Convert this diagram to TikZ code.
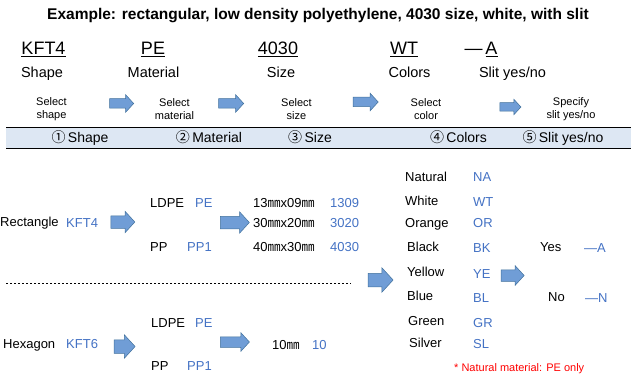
\documentclass[tikz,border=0pt]{standalone}
\usepackage{fontspec}
\setmainfont{Liberation Sans}
\newfontfamily\cjk{Noto Sans CJK JP}
\usetikzlibrary{shapes.arrows}
\definecolor{codeblue}{RGB}{68,114,196}
\definecolor{arrowfill}{RGB}{112,157,214}
\definecolor{arrowline}{RGB}{65,113,156}
\definecolor{bandfill}{RGB}{221,231,243}
\newcommand{\mmu}{{\cjk ㎜}}
\newcommand{\circnum}[1]{{\cjk #1}}
\begin{document}
\begin{tikzpicture}[x=1pt,y=-1pt,
  title/.style={font=\fontsize{15.5}{18}\selectfont\bfseries, inner sep=0pt},
  hdr/.style={font=\fontsize{18}{21}\selectfont, inner sep=0pt, text height=13pt, text depth=0pt},
  sub/.style={font=\fontsize{14.5}{17}\selectfont, inner sep=0pt, text height=10.4pt, text depth=0pt},
  sel/.style={font=\fontsize{11}{13}\selectfont, inner sep=0pt, align=center},
  bandtxt/.style={font=\fontsize{14}{16}\selectfont, inner sep=0pt, text height=10pt, text depth=0pt},
  lbl/.style={font=\fontsize{13}{15}\selectfont, inner sep=0pt, text height=9.4pt, text depth=0pt, anchor=west},
  code/.style={lbl, text=codeblue},
  note/.style={font=\fontsize{11}{13}\selectfont, inner sep=0pt, text=red, anchor=west},
  blk/.style n args={3}{shape=single arrow, draw=arrowline, fill=arrowfill, line width=0.5pt,
     inner sep=0pt, minimum height=#1, single arrow head extend=#2, single arrow tip angle=95},
  dashline/.style={draw=black, line width=0.7pt, dash pattern=on 2pt off 2pt}
]
\useasboundingbox (0,0) rectangle (636,379);

% title
\node[title] (ttl) at (318,16) {Example: rectangular, low density polyethylene, 4030 size, white, with slit};

% header codes
\node[hdr] (h1) at (43.5,48) {\underline{KFT4}};
\node[hdr] (h2) at (153,48) {\underline{PE}};
\node[hdr] (h3) at (278,48) {\underline{4030}};
\node[hdr] (h4) at (404,48) {\underline{WT}};
\node[hdr] (h5) at (481,48) {—\,\underline{A}};

\node[sub] (s1) at (42,72) {Shape};
\node[sub] (s2) at (153.5,72) {Material};
\node[sub] (s3) at (281,72) {Size};
\node[sub] (s4) at (409.5,72) {Colors};
\node[sub] (s5) at (512.5,72) {Slit yes/no};

\node[sel] (q1) at (51.5,109) {Select\\shape};
\node[sel] (q2) at (174.5,109) {Select\\material};
\node[sel] (q3) at (296.5,109) {Select\\size};
\node[sel] (q4) at (426,109) {Select\\color};
\node[sel] (q5) at (571,109) {Specify\\slit yes/no};

\node[blk={24pt}{4pt}] (t1) at (119.5,103.5) {\rule{0pt}{9pt}};
\node[blk={25pt}{4pt}] (t2) at (229,103.5) {\rule{0pt}{9pt}};
\node[blk={25pt}{4pt}] (t3) at (363.5,102) {\rule{0pt}{9pt}};
\node[blk={21pt}{3.5pt}] (t4) at (508.5,107) {\rule{0pt}{8pt}};

% band
\coordinate (b1) at (6,127);
\coordinate (b2) at (631,148);
\fill[bandfill] (b1) rectangle (b2);
\draw[line width=0.9pt] (b1) -- (b1 -| b2);
\draw[line width=0.9pt] (b1 |- b2) -- (b2);
\node[bandtxt] (p1) at (80,138) {\circnum{①}\,Shape};
\node[bandtxt] (p2) at (209,138) {\circnum{②}\,Material};
\node[bandtxt] (p3) at (310,138) {\circnum{③}\,Size};
\node[bandtxt] (p4) at (458.5,138) {\circnum{④}\,Colors};
\node[bandtxt] (p5) at (563,138) {\circnum{⑤}\,Slit yes/no};

% rectangle branch
\node[lbl] (rect) at (0,222) {Rectangle};
\node[code] (kft4) at (66,223) {KFT4};
\node[blk={24pt}{4.5pt}] (a1) at (120,222) {\rule{0pt}{12pt}};
\node[lbl] (ldpe1) at (150,203) {LDPE};
\node[code] (pe1) at (195,203) {PE};
\node[lbl] (pp1) at (150,247) {PP};
\node[code] (ppc1) at (187,247) {PP1};
\node[blk={29pt}{4.5pt}] (a2) at (232,222.5) {\rule{0pt}{12pt}};
\node[lbl] (z1) at (253,203) {13\mmu x09\mmu};
\node[lbl] (z2) at (253,223) {30\mmu x20\mmu};
\node[lbl] (z3) at (253,247) {40\mmu x30\mmu};
\node[code] (zc1) at (330,203) {1309};
\node[code] (zc2) at (330,223) {3020};
\node[code] (zc3) at (330,247) {4030};

% separator
\coordinate (d1) at (6,283);
\coordinate (d2) at (351,283);
\draw[dashline] (d1) -- (d2);

% hexagon branch
\node[lbl] (hex) at (3,344) {Hexagon};
\node[code] (kft6) at (66,344) {KFT6};
\node[blk={21pt}{5pt}] (a5) at (121.5,346.5) {\rule{0pt}{13pt}};
\node[lbl] (ldpe2) at (151,323) {LDPE};
\node[code] (pe2) at (195,323) {PE};
\node[lbl] (pp2) at (151,366) {PP};
\node[code] (ppc2) at (187,366) {PP1};
\node[blk={29pt}{4pt}] (a6) at (232.5,342) {\rule{0pt}{10pt}};
\node[lbl] (z4) at (272,345) {10\mmu};
\node[code] (zc4) at (312,345) {10};

% to colours
\node[blk={25pt}{5.5pt}] (a3) at (377.5,280) {\rule{0pt}{13pt}};
\node[lbl] (c1) at (405,177) {Natural};
\node[lbl] (c2) at (405,201) {White};
\node[lbl] (c3) at (405,223) {Orange};
\node[lbl] (c4) at (407,247) {Black};
\node[lbl] (c5) at (407,272) {Yellow};
\node[lbl] (c6) at (407,296) {Blue};
\node[lbl] (c7) at (408,321) {Green};
\node[lbl] (c8) at (409,343) {Silver};
\node[code] (cc1) at (473,177) {NA};
\node[code] (cc2) at (473,202) {WT};
\node[code] (cc3) at (473,223) {OR};
\node[code] (cc4) at (473,248) {BK};
\node[code] (cc5) at (473,274) {YE};
\node[code] (cc6) at (473,298) {BL};
\node[code] (cc7) at (473,323) {GR};
\node[code] (cc8) at (473,344) {SL};

% slit
\node[blk={23pt}{4pt}] (a4) at (510,275.5) {\rule{0pt}{11pt}};
\node[lbl] (yes) at (540,247) {Yes};
\node[code] (yc) at (584,248) {—A};
\node[lbl] (no) at (548,297) {No};
\node[code] (nc) at (585,298) {—N};

\node[note] (nt) at (454,369) {* Natural material: PE only};
\end{tikzpicture}
\end{document}
